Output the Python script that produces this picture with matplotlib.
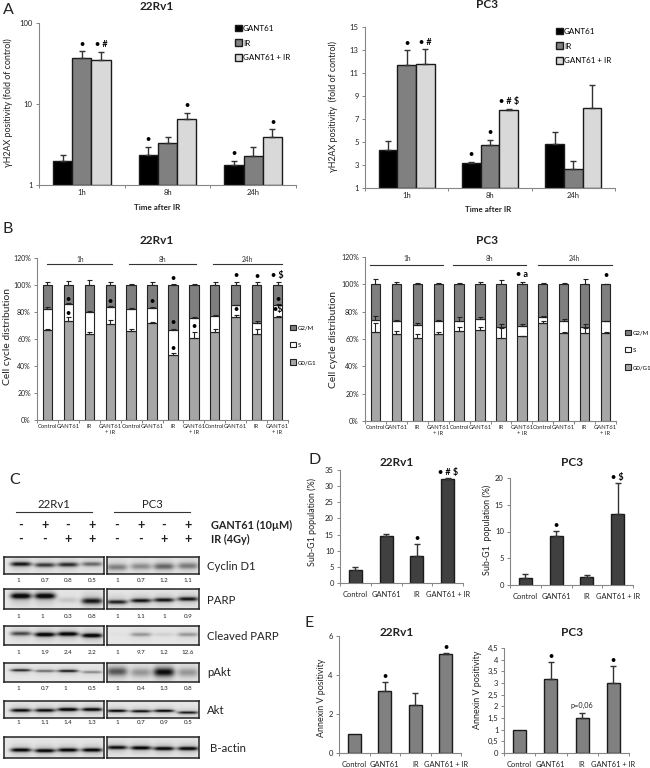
import numpy as np
import matplotlib
matplotlib.use('Agg')
import matplotlib.pyplot as plt
from matplotlib.patches import Patch

plt.rcParams['font.family'] = ['Lato', 'DejaVu Sans']

W, H = 650, 768

# panel A
times = ['1h', '8h', '24h']
a_names = ['GANT61', 'IR', 'GANT61 + IR']
a_colors = ['#000000', '#808080', '#d9d9d9']
a22_vals = [[1.99, 2.34, 1.76], [36.6, 3.26, 2.28], [34.6, 6.5, 3.94]]
a22_err = [[0.35, 0.62, 0.24], [8.2, 0.6, 0.68], [9.4, 1.35, 0.96]]
apc_vals = [[4.3, 3.17, 4.84], [11.66, 4.76, 2.68], [11.75, 7.82, 8.0]]
apc_err = [[0.8, 0.13, 0.99], [1.31, 0.44, 0.63], [1.3, 0.08, 2.0]]
a22_marks = [(1, 0, '•'), (2, 0, '• #'), (0, 1, '•'), (2, 1, '•'), (0, 2, '•'), (2, 2, '•')]
apc_marks = [(1, 0, '•'), (2, 0, '• #'), (0, 1, '•'), (1, 1, '•'), (2, 1, '• # $')]

# panel B
b_labels = ['Control', 'GANT61', 'IR', 'GANT61\n+ IR'] * 3
b_names = ['G0/G1', 'S', 'G2/M']
b_colors = ['#a6a6a6', '#ffffff', '#7f7f7f']
b22_g0 = [67, 73, 64, 71, 66, 71.5, 48, 60.5, 65.5, 76.5, 63.5, 76]
b22_s_top = [82, 86, 80, 84, 82.5, 83, 66.5, 75.5, 77, 85, 72, 85]
b22_g0_cap = [67.7, 76, 65, 74, 67.5, 72.5, 49.5, 65, 67.5, 77.5, 67.5, 77]
b22_s_cap = [83.5, 86.5, 81, 84.5, 83, 83.5, 67.5, 76, 78, 85.5, 73, 86]
b22_g2_cap = [102, 103, 103.5, 102.5, 101, 102.5, 100.5, 101, 102, 102, 102, 102.5]
bpc_g0 = [65, 64, 61, 63.5, 65.5, 66.5, 60.5, 62, 72, 64.5, 64.5, 64.5]
bpc_s_top = [74, 73.5, 70.5, 73.5, 73.5, 75, 69, 69.5, 76, 73, 69, 73]
bpc_g0_cap = [71.5, 66, 64, 65, 69, 68.5, 68, 62.5, 73, 65, 68, 65]
bpc_s_cap = [77, 74, 72, 74, 76, 76, 71, 71, 77, 74.5, 71, 73.5]
bpc_g2_cap = [104, 102, 101, 101, 101, 102, 103.5, 102, 101, 101, 104, 100.5]
b22_marks = [(1, 89.5, '•'), (1, 79, '•'), (3, 88, '•'), (5, 87.5, '•'), (6, 105, '•'),
             (6, 72, '•'), (6, 53, '•'), (7, 69, '•'), (9, 107, '•'), (9, 82, '•'),
             (10, 106.5, '•'), (11, 107, '• $'), (11, 89.5, '•'), (11, 82, '•$')]
bpc_marks = [(7, 107, '• a'), (11, 106.5, '•')]

# panel D / E
treat = ['Control', 'GANT61', 'IR', 'GANT61 + IR']
d22_vals = [4.1, 14.5, 8.4, 32.2]
d22_err = [0.9, 0.6, 3.8, 0.4]
dpc_vals = [1.4, 9.2, 1.55, 13.25]
dpc_err = [0.7, 0.95, 0.35, 5.75]
e22_vals = [1.0, 3.18, 2.47, 5.08]
e22_err = [0.0, 0.48, 0.59, 0.05]
epc_vals = [1.0, 3.17, 1.52, 3.0]
epc_err = [0.0, 0.73, 0.21, 0.73]

# panel C
blot_names = ['Cyclin D1', 'PARP', 'Cleaved PARP', 'pAkt', 'Akt', 'B-actin']
gant_signs = ['-', '+', '-', '+']
ir_signs = ['-', '-', '+', '+']
ratios_22 = [['1', '0.7', '0.8', '0.5'], ['1', '1', '0.3', '0.8'], ['1', '1.9', '2.4', '2.2'],
             ['1', '0.7', '1', '0.5'], ['1', '1.1', '1.4', '1.3']]
ratios_pc = [['1', '0.7', '1.2', '1.1'], ['1', '1.1', '1', '0.9'], ['1', '9.7', '1.2', '12.6'],
             ['1', '0.4', '1.3', '0.8'], ['1', '0.7', '0.9', '0.5']]
dark_22 = [[.85, .7, .75, .5], [.95, .95, .12, .8], [.6, .95, .95, .95],
           [.7, .45, .75, .35], [.85, .85, .95, .9], [.9, .9, .9, .9]]
dark_pc = [[.4, .35, .5, .42], [.75, .8, .8, .8], [.02, .3, .08, .3],
           [.55, .3, .85, .3], [.85, .8, .85, .75], [.85, .9, .9, .9]]
bandy_22 = [[.45, .5, .48, .45], [.35, .35, .55, .6], [.4, .45, .42, .5],
            [.38, .42, .42, .48], [.55, .55, .5, .5], [.62, .65, .62, .62]]
bandy_pc = [[.62, .58, .58, .55], [.65, .58, .55, .5], [.45, .45, .45, .45],
            [.45, .5, .48, .5], [.58, .6, .58, .68], [.5, .52, .55, .55]]
thick_22 = [.11, .14, .11, .07, .1, .09]
thick_pc = [.17, .1, .1, .22, .08, .09]


def px_ax(left, right, top, bottom):
    return fig.add_axes([left / W, 1 - bottom / H, (right - left) / W, (bottom - top) / H])


def t(x, y, s, size=6, **kw):
    kw.setdefault('ha', 'center')
    kw.setdefault('va', 'center')
    fig.text(x / W, 1 - y / H, s, fontsize=size, **kw)


def style(ax):
    for side in ['top', 'right']:
        ax.spines[side].set_visible(False)
    for side in ['left', 'bottom']:
        ax.spines[side].set_color('#868686')
        ax.spines[side].set_linewidth(0.8)
    ax.tick_params(axis='both', which='major', color='#868686', length=2.5, width=0.7,
                   labelsize=5.5, pad=2, labelcolor='#222222')


def cat_ticks(ax, labels, size=5.5, pad=3):
    n = len(labels)
    ax.set_xlim(0, n)
    ax.set_xticks(range(n + 1))
    ax.set_xticklabels([])
    ax.set_xticks(np.arange(n) + 0.5, minor=True)
    ax.set_xticklabels(labels, minor=True, fontsize=size, color='#222222')
    ax.tick_params(axis='x', which='minor', length=0, pad=pad)


def panel_a(box, vals, err, marks, yscale, legend_at):
    ax = px_ax(*box)
    w = 0.225
    for i in range(3):
        x = np.arange(3) + 0.5 + (i - 1) * w
        # the axis starts at 1, so bars rise from 1 to the value
        ax.bar(x, np.array(vals[i]) - 1, w, bottom=1, color=a_colors[i], edgecolor='#1a1a1a',
               linewidth=1.0, label=a_names[i])
        ax.errorbar(x, vals[i], yerr=[[0] * 3, err[i]], fmt='none', ecolor='#333333',
                    elinewidth=1.0, capsize=2, capthick=1.0)
    for i, j, s in marks:
        x = j + 0.5 + (i - 1) * w
        ax.annotate(s, (x, vals[i][j] + err[i][j]), xytext=(0, 5), textcoords='offset points',
                    ha='center', va='center', fontsize=6.5, fontweight='bold')
    yscale(ax)
    cat_ticks(ax, times)
    style(ax)
    ax.legend(loc='center left', bbox_to_anchor=(legend_at[0] / W, 1 - legend_at[1] / H),
              bbox_transform=fig.transFigure, frameon=False, fontsize=5.8, handlelength=0.85,
              handleheight=0.85, handletextpad=0.15, labelspacing=0.95, borderpad=0,
              borderaxespad=0)
    return ax


def panel_b(box, g0, s_top, g0_cap, s_cap, g2_cap, marks, lines, line_y, legend_at):
    ax = px_ax(*box)
    x = np.arange(12) + 0.5
    g0 = np.array(g0)
    s_top = np.array(s_top)
    w = 0.45
    ax.bar(x, g0, w, color=b_colors[0], edgecolor='#222222', linewidth=0.8)
    ax.bar(x, s_top - g0, w, bottom=g0, color=b_colors[1], edgecolor='#222222', linewidth=0.8)
    ax.bar(x, 100 - s_top, w, bottom=s_top, color=b_colors[2], edgecolor='#222222', linewidth=0.8)
    for vals, cap in [(g0, g0_cap), (s_top, s_cap), (np.full(12, 100), g2_cap)]:
        ax.errorbar(x, vals, yerr=[np.zeros(12), np.array(cap) - vals], fmt='none',
                    ecolor='#222222', elinewidth=0.8, capsize=1.8, capthick=0.8)
    for i, y, s in marks:
        ax.text(i + 0.5, y, s, ha='center', va='center', fontsize=6.5, fontweight='bold')
    for (a, b), lab in zip(lines, times):
        ax.plot([a + 0.5, b + 0.5], [line_y, line_y], color='#333333', lw=0.8, clip_on=False)
        ax.text((a + b) / 2 + 0.5, 119, lab, ha='center', va='center', fontsize=4.8,
                color='#333333', clip_on=False)
    ax.set_ylim(0, 120)
    ax.set_yticks(range(0, 121, 20))
    ax.set_yticklabels([f'{v}%' for v in range(0, 121, 20)])
    cat_ticks(ax, b_labels, size=4.2, pad=3)
    style(ax)
    ax.tick_params(axis='y', labelsize=5)
    handles = [Patch(facecolor=b_colors[i], edgecolor='#222222', linewidth=0.8, label=b_names[i])
               for i in [2, 1, 0]]
    ax.legend(handles=handles, loc='center left',
              bbox_to_anchor=(legend_at[0] / W, 1 - legend_at[1] / H),
              bbox_transform=fig.transFigure, frameon=False, fontsize=4.4, handlelength=0.9,
              handleheight=0.9, handletextpad=0.3, labelspacing=1.9, borderpad=0,
              borderaxespad=0)


def simple_bars(box, vals, err, color, ymax, ticks, ticklabels, marks):
    ax = px_ax(*box)
    x = np.arange(4) + 0.5
    ax.bar(x, vals, 0.42, color=color, edgecolor='#1a1a1a', linewidth=1.0)
    keep = [i for i in range(4) if err[i] > 0]
    ax.errorbar(x[keep], np.array(vals)[keep], yerr=[[0] * len(keep), np.array(err)[keep]],
                fmt='none', ecolor='#333333', elinewidth=1.0, capsize=2, capthick=1.0)
    for i, s in marks:
        ax.annotate(s, (x[i], vals[i] + err[i]), xytext=(0, 4), textcoords='offset points',
                    ha='center', va='center', fontsize=6.5, fontweight='bold')
    ax.set_ylim(0, ymax)
    ax.set_yticks(ticks)
    ax.set_yticklabels(ticklabels)
    cat_ticks(ax, treat, size=5.4, pad=6)
    style(ax)
    return ax


def blot(box, dark, band_y, thick, lanes):
    ax = px_ax(*box)
    nx = box[1] - box[0]
    ny = box[3] - box[2]
    xx, yy = np.meshgrid(np.arange(nx) + 0.5, (np.arange(ny) + 0.5) / ny)
    img = np.zeros((ny, nx))
    for lane, d, by in zip(lanes, dark, band_y):
        across = np.exp(-((xx + box[0] - lane) / 10.5) ** 4)
        img += d * across * np.exp(-((yy - by) / thick) ** 2)
        img += 0.22 * d * across * np.exp(-((yy - by) / (thick * 3)) ** 2)
    ax.imshow(0.9 - 0.85 * np.clip(img, 0, 1), cmap='gray', vmin=0, vmax=1, aspect='auto',
              interpolation='bilinear')
    ax.set_xticks([])
    ax.set_yticks([])
    for side in ax.spines.values():
        side.set_linewidth(1.1)
        side.set_color('#222222')


fig = plt.figure(figsize=(6.5, 7.68), dpi=100, facecolor='white')


def log_scale(ax):
    ax.set_yscale('log')
    ax.set_ylim(1, 100)
    ax.set_yticks([1, 10, 100])
    ax.set_yticklabels(['1', '10', '100'])
    ax.minorticks_off()


def lin_scale(ax):
    ax.set_ylim(1, 15)
    ax.set_yticks(range(1, 16, 2))


panel_a((39, 296, 23, 185), a22_vals, a22_err, a22_marks, log_scale, (235, 43))
panel_a((365, 615, 27, 188), apc_vals, apc_err, apc_marks, lin_scale, (556, 46))

panel_b((37, 288, 258, 420), b22_g0, b22_s_top, b22_g0_cap, b22_s_cap, b22_g2_cap, b22_marks,
        [(0, 3.1), (3.9, 7.1), (7.9, 11.2)], 115.4, (290, 345))
panel_b((365, 616, 257, 421), bpc_g0, bpc_s_top, bpc_g0_cap, bpc_s_cap, bpc_g2_cap, bpc_marks,
        [(-0.25, 3.25), (3.7, 7.2), (7.75, 11.3)], 114, (625, 350))

simple_bars((340, 463, 470, 583), d22_vals, d22_err, '#404040', 35, range(0, 36, 5),
            [str(v) for v in range(0, 36, 5)], [(2, '•'), (3, '• # $')])
simple_bars((510, 633, 478, 585), dpc_vals, dpc_err, '#404040', 20, range(0, 21, 5),
            [str(v) for v in range(0, 21, 5)], [(1, '•'), (3, '• $')])
simple_bars((339, 461, 636, 753), e22_vals, e22_err, '#808080', 6, [0, 2, 4, 6],
            ['0', '2', '4', '6'], [(1, '•'), (3, '•')])
ax = simple_bars((504, 629, 648, 753), epc_vals, epc_err, '#808080', 4.5, np.arange(0, 4.6, 0.5),
                 ['0', '0,5', '1', '1,5', '2', '2,5', '3', '3,5', '4', '4,5'],
                 [(1, '•'), (3, '•')])
ax.tick_params(axis='y', pad=1.5)
ax.text(2.5, 2.03, 'p=0,06', ha='center', va='center', fontsize=5.2, color='#222222')

# blots
rows = [(557, 574), (589, 609), (626, 645), (663, 682), (701, 718), (737, 758)]
ratio_y = [581, 616, 652, 688, 723]
name_y = [567, 601, 637, 673, 710, 748]
lanes_22 = [21, 45, 68, 92]
lanes_pc = [117, 141, 164, 188]
for i, (top, bottom) in enumerate(rows):
    blot((4, 104, top, bottom), dark_22[i], bandy_22[i], thick_22[i], lanes_22)
    blot((107, 199, top, bottom), dark_pc[i], bandy_pc[i], thick_pc[i], lanes_pc)
    t(210 if i == 5 else 207, name_y[i], blot_names[i], size=8.2, ha='left', color='#222222')
for i, y in enumerate(ratio_y):
    for lane, r in zip(lanes_22, ratios_22[i]):
        t(lane - 3 if r == '1' else lane, y, r, size=4.5, color='#222222')
    for lane, r in zip(lanes_pc, ratios_pc[i]):
        t(lane, y, r, size=4.5, color='#222222')
for lane, g, r in zip(lanes_22 + lanes_pc, gant_signs * 2, ir_signs * 2):
    t(lane, 525, g, size=9, fontweight='bold', color='#222222')
    t(lane, 539, r, size=9, fontweight='bold', color='#222222')
for a, b, s in [(16, 92, '22Rv1'), (114, 190, 'PC3')]:
    fig.add_artist(plt.Line2D([a / W, b / W], [1 - 512 / H] * 2, color='#333333', lw=0.8))
    t((a + b) / 2, 505, s, size=8.2, color='#222222')
t(211, 525, 'GANT61 (10µM)', size=7.8, ha='left', fontweight='bold', color='#222222')
t(211, 539, 'IR (4Gy)', size=7.8, ha='left', fontweight='bold', color='#222222')

# titles and outer labels
for x, y, s in [(157, 6, '22Rv1'), (487, 5, 'PC3'), (157, 240, '22Rv1'), (487, 240, 'PC3'),
                (397, 462, '22Rv1'), (572, 462, 'PC3'), (397, 632, '22Rv1'), (572, 632, 'PC3')]:
    t(x, y, s, size=8.5, fontweight='bold', color='#222222')
for x, y, s in [(3, 10, 'A'), (3, 229, 'B'), (9, 480, 'C'), (308, 460, 'D'), (305, 623, 'E')]:
    t(x, y, s, size=11.5, ha='left', color='#222222')
for x, y, s in [(157, 207, 'Time after IR'), (488, 209, 'Time after IR')]:
    t(x, y, s, size=5.8, fontweight='bold', color='#222222')
for x, y, s, size in [(8, 103, 'γH2AX positivity (fold of control)', 6.4),
                      (333, 107, 'γH2AX positivity  (fold of control)', 6.4),
                      (8, 337, 'Cell cycle distribution', 7.4),
                      (333, 340, 'Cell cycle distribution', 7.4),
                      (312, 522, 'Sub-G1 population (%)', 6.4),
                      (487, 530, 'Sub-G1  population (%)', 6.4),
                      (321, 698, 'Annexin V positivity', 6.4),
                      (478, 690, 'Annexin V positivity', 6.4)]:
    t(x, y, s, size=size, rotation=90, color='#222222')

fig.savefig('out.png', dpi=100)
